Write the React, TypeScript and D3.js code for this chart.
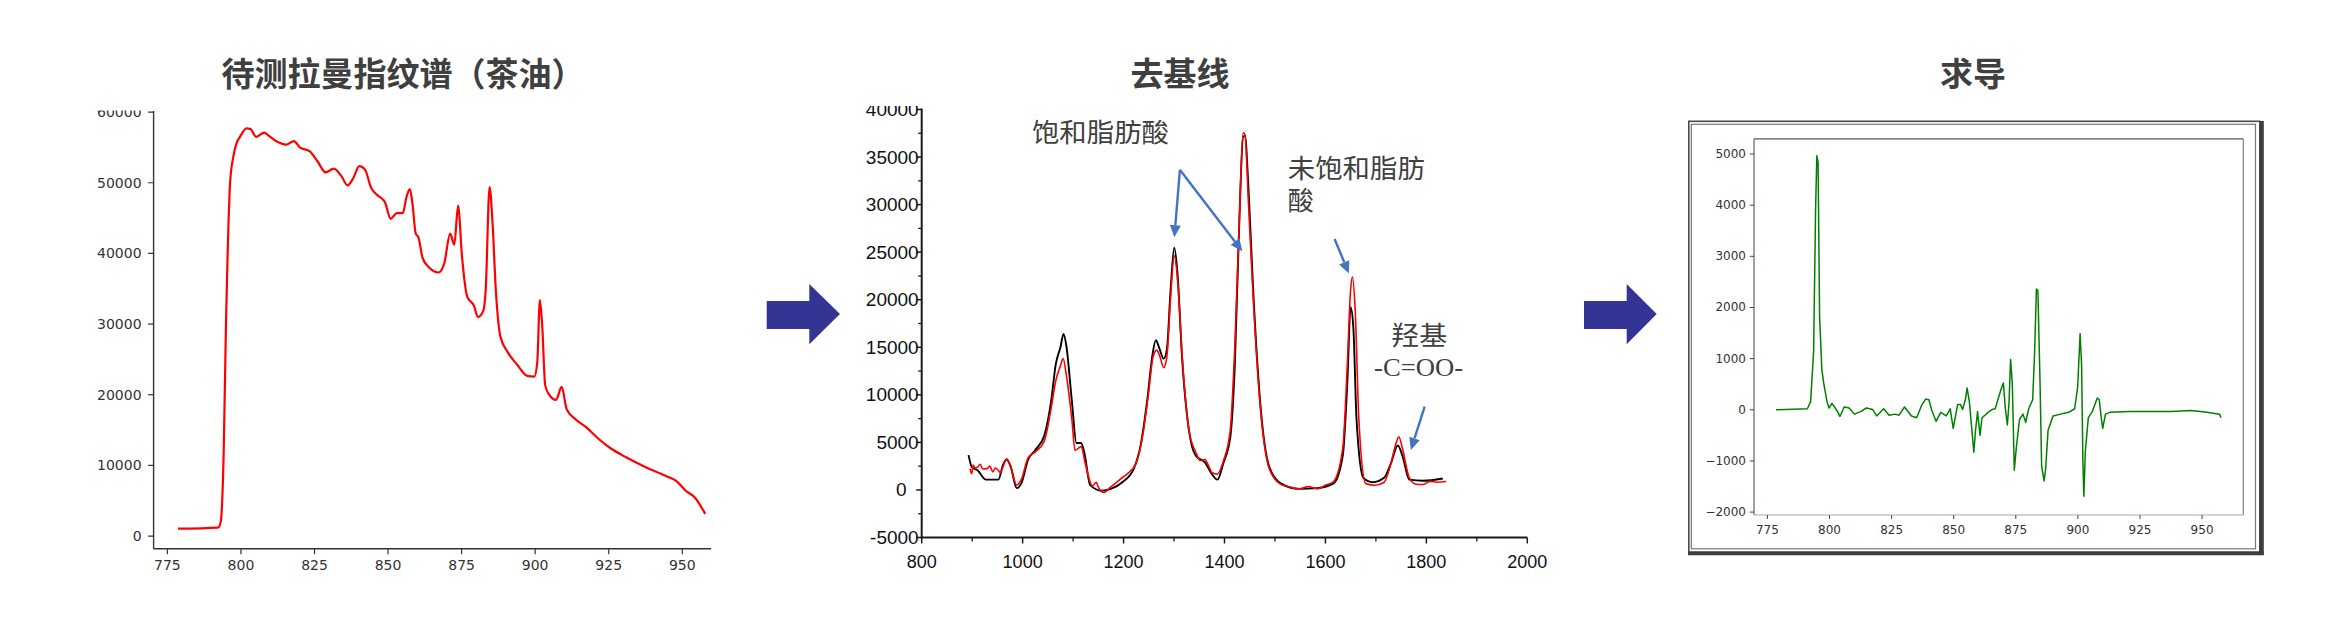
import React from 'react';
import * as d3 from 'd3';

// ---------- Panel 1: raw Raman spectrum (tea oil) ----------
const rawX = [778.6, 792.2, 793.1, 794.1, 794.9, 795.5, 796.3, 797.4, 798.5, 799.7, 801.9, 803.2, 805.2, 807.9, 809.3, 811.9, 815.3, 818, 820, 823.4, 826, 828.8, 831.5, 834.2, 836.2, 838.2, 840.2, 842.2, 844.2, 846.2, 848.9, 850.9, 853, 855, 856.3, 857.4, 858.3, 859.4, 860.3, 861.7, 863.7, 867.1, 869.1, 871.1, 872.5, 873.8, 875.1, 876.9, 879.2, 880.5, 882.3, 883.2, 884.5, 885.5, 886.6, 888.2, 890.6, 893.9, 897.3, 899.7, 900.7, 901.6, 902.4, 903.4, 904.7, 907.1, 909, 910.7, 913.4, 917.5, 921.5, 925.5, 930.9, 937.6, 944.3, 948.4, 951.1, 954.4, 957.8];
const rawY = [1047, 1200, 2000, 11400, 30000, 40500, 50000, 53700, 55600, 56520, 57700, 57600, 56500, 57100, 56700, 55900, 55400, 55900, 55000, 54450, 53040, 51470, 52000, 50900, 49630, 50680, 52360, 51830, 49340, 48300, 47280, 44900, 45700, 45700, 48060, 49100, 47000, 42800, 42300, 39400, 38100, 37300, 38600, 42800, 41250, 46750, 39700, 33900, 32600, 31000, 31800, 34970, 49370, 44400, 35000, 28200, 26070, 24240, 22670, 22570, 24500, 33400, 29740, 21360, 20050, 19270, 21100, 17960, 16650, 15340, 13770, 12460, 11150, 9740, 8530, 7640, 6440, 5390, 3140];

// ---------- Panel 2: baseline removed (black + red) ----------
const blackX = [892.8, 899.2, 911, 927.4, 951.9, 961, 968.3, 976.5, 988.3, 997.4, 1011, 1024.7, 1042.9, 1056.6, 1065.7, 1074.8, 1081.1, 1086.6, 1097.5, 1106.6, 1115.7, 1122.1, 1133.9, 1156.6, 1174.8, 1197.6, 1220.3, 1234, 1247.6, 1256.7, 1264, 1270.4, 1279.5, 1285.8, 1293.1, 1300.4, 1306.7, 1315.8, 1329.5, 1343.1, 1361.3, 1375, 1385.9, 1397.7, 1411.4, 1420.5, 1429.6, 1436.9, 1440.5, 1447.8, 1456.9, 1470.5, 1488.7, 1511.5, 1547.9, 1584.3, 1616.1, 1634.3, 1643.4, 1649.8, 1655.3, 1661.6, 1675.3, 1693.5, 1716.3, 1729.9, 1743.5, 1752.6, 1766.3, 1793.6, 1832.6];
const blackY = [3665, 2430, 2045, 1080, 1080, 2620, 3200, 2430, 190, 690, 3200, 4170, 5710, 9380, 13230, 14970, 16400, 15160, 9380, 4940, 4940, 3970, 500, -80, 115, 810, 2240, 4745, 9760, 14000, 15740, 14970, 13810, 14780, 20950, 25460, 22880, 14000, 6290, 3590, 2890, 1660, 1080, 2820, 5520, 13230, 28670, 37150, 37230, 31370, 20950, 9380, 2430, 690, 115, 190, 690, 3590, 11300, 19210, 17090, 7450, 1270, 810, 1270, 2820, 4670, 3590, 1080, 960, 1200];
const redX = [895.6, 899, 902, 906, 911, 916, 921, 929.2, 935, 941, 946, 952, 956, 961, 968.3, 976.5, 988.3, 997.4, 1011, 1024.7, 1042.9, 1056.6, 1065.7, 1074.8, 1080.2, 1086.6, 1097.5, 1103.9, 1115.7, 1124.8, 1138.4, 1146, 1150, 1161.2, 1172, 1183.9, 1195, 1206.7, 1224.9, 1238.5, 1249.4, 1258.5, 1265.8, 1272.1, 1279.5, 1285.8, 1293.1, 1300.4, 1307.6, 1315.8, 1329.5, 1343.1, 1352, 1361.3, 1368, 1375, 1385.9, 1397.7, 1411.4, 1420.5, 1429.6, 1436.9, 1440.5, 1447.8, 1456.9, 1470.5, 1488.7, 1511.5, 1530, 1547.9, 1566, 1584.3, 1600, 1616.1, 1634.3, 1643.4, 1649.8, 1653.4, 1658.9, 1666.2, 1679.8, 1698, 1716.3, 1729.9, 1739, 1745.4, 1752.6, 1766.3, 1780, 1793.6, 1808, 1820.9, 1839.1];
const redY = [2240, 1700, 2620, 2300, 2430, 2700, 2200, 2240, 2500, 1900, 2300, 2045, 1800, 2430, 3280, 2430, 500, 1080, 3395, 3970, 5130, 8600, 11500, 13040, 13810, 12080, 7450, 4170, 4550, 2620, 420, 800, 300, -270, 200, 690, 1200, 1660, 2820, 5900, 10150, 14000, 14700, 14000, 12850, 14000, 20180, 24610, 21720, 14390, 6290, 3970, 3100, 3200, 2600, 1850, 1660, 3010, 6290, 15160, 28670, 37540, 37350, 29820, 20180, 8990, 2240, 580, 300, 115, 350, 115, 500, 890, 4360, 13230, 20950, 22420, 19020, 7450, 690, 500, 810, 2820, 4750, 5590, 4360, 1270, 600, 580, 900, 810, 890];

// ---------- Panel 3: derivative ----------
const derivX = [778.5, 791.1, 792.4, 793.6, 794.4, 794.9, 795.4, 796, 796.9, 797.7, 799, 799.8, 801, 802.3, 803.4, 804.2, 805.9, 807.9, 810, 812.5, 814.9, 817.4, 819, 821.8, 824, 826.4, 828, 830.2, 833, 835.1, 837.1, 838.7, 840, 841.2, 842.9, 844.8, 847, 848.6, 849.8, 851.6, 852.7, 853.6, 854.7, 855.4, 856.3, 857.2, 858.1, 858.8, 859.6, 860.6, 861.4, 863.1, 864.2, 865.4, 866.7, 868, 869.1, 870, 870.8, 871.6, 872.3, 872.9, 873.6, 874.4, 875.2, 876.5, 877.9, 879, 880.2, 881.8, 882.6, 883.3, 883.9, 884.8, 885.4, 886.4, 887, 888, 890, 893, 896.3, 898.7, 899.9, 900.9, 901.5, 902, 902.4, 903, 904.2, 905.8, 907, 907.8, 908.6, 909.5, 910, 911.1, 912.8, 921, 937.3, 945.5, 952, 957, 957.6];
const derivY = [0, 20, 160, 1140, 3930, 4965, 4840, 1840, 790, 510, 160, 35, 125, 35, -50, -130, 55, 35, -85, -35, 35, 5, -120, 20, -105, -85, -105, 55, -120, -155, 90, 210, 195, -15, -225, -50, -120, 20, -365, 105, 105, 5, 195, 425, 160, -330, -830, -400, -35, -500, -155, -85, -35, 5, 20, 230, 405, 525, 20, -295, 160, 985, 510, -1180, -750, -190, -85, -245, 20, 195, 1140, 2360, 2325, 440, -1095, -1390, -1165, -400, -120, -85, -50, 20, 440, 1490, 860, -955, -1690, -815, -155, -35, 125, 230, 195, -190, -365, -85, -50, -35, -35, -15, -50, -85, -155];

// ---------- Tick values & labels ----------
const p1XTicks = [775, 800, 825, 850, 875, 900, 925, 950];
const p1YTicks = [0, 10000, 20000, 30000, 40000, 50000, 60000];
const p2XMajor = [800, 1000, 1200, 1400, 1600, 1800, 2000];
const p2XMinor = [900, 1100, 1300, 1500, 1700, 1900];
const p2YMajor = [-5000, 0, 5000, 10000, 15000, 20000, 25000, 30000, 35000, 40000];
const p2YMinor = [-2500, 2500, 7500, 12500, 17500, 22500, 27500, 32500, 37500];
const p3XTicks = [775, 800, 825, 850, 875, 900, 925, 950];
const p3YTicks = [-2000, -1000, 0, 1000, 2000, 3000, 4000, 5000];

const titles = ['待测拉曼指纹谱（茶油）', '去基线', '求导'];

// annotations in panel-2 data coordinates
const notes = [
  { text: '饱和脂肪酸', x: 1018.5, y: 37780, len: 137, serif: false },
  { text: '未饱和脂肪', x: 1525.5, y: 34050, len: 137, serif: false },
  { text: '酸', x: 1525.5, y: 30660, len: 0, serif: false },
  { text: '羟基', x: 1730.2, y: 16460, len: 56, serif: false },
  { text: '-C=OO-', x: 1696.5, y: 12880, len: 89, serif: true },
];
const noteArrows = [
  { x0: 1311.6, y0: 33660, x1: 1300.7, y1: 26570 },
  { x0: 1311.6, y0: 33660, x1: 1435.3, y1: 25100 },
  { x0: 1618.2, y0: 26380, x1: 1646.4, y1: 22770 },
  { x0: 1796.6, y0: 8760, x1: 1769.3, y1: 4210 },
];

const CJK = '"Noto Sans CJK SC", "Noto Sans", sans-serif';

function zip(xs: number[], ys: number[]): [number, number][] {
  return xs.map((x, i) => [x, ys[i]] as [number, number]);
}

function ArrowLine({ x0, y0, x1, y1 }: { x0: number; y0: number; x1: number; y1: number }) {
  const dx = x1 - x0, dy = y1 - y0;
  const L = Math.hypot(dx, dy);
  const ux = dx / L, uy = dy / L;
  const hl = 12, hw = 5.5;
  const bx = x1 - ux * hl, by = y1 - uy * hl;
  const pts = `${x1},${y1} ${bx - uy * hw},${by + ux * hw} ${bx + uy * hw},${by - ux * hw}`;
  return (
    <g>
      <line x1={x0} y1={y0} x2={bx} y2={by} stroke="#4472C4" strokeWidth={2.4} />
      <polygon points={pts} fill="#4472C4" />
    </g>
  );
}

export default function App() {
  // Panel 1 scales
  const x1 = d3.scaleLinear().domain([770.3, 959.8]).range([153.6, 711.1]);
  const y1 = d3.scaleLinear().domain([-1790, 60000]).range([548.7, 112.1]);
  const line1 = d3.line<[number, number]>().x(d => x1(d[0])).y(d => y1(d[1])).curve(d3.curveMonotoneX);

  // Panel 2 scales
  const x2 = d3.scaleLinear().domain([800, 2000]).range([921.7, 1527.3]);
  const y2 = d3.scaleLinear().domain([-5000, 40000]).range([537.5, 109.5]);
  const line2 = d3.line<[number, number]>().x(d => x2(d[0])).y(d => y2(d[1])).curve(d3.curveMonotoneX);

  // Panel 3 scales
  const x3 = d3.scaleLinear().domain([769.6, 966.6]).range([1754, 2243.3]);
  const y3 = d3.scaleLinear().domain([-2000, 5000]).range([512.1, 154]);
  const line3 = d3.line<[number, number]>().x(d => x3(d[0])).y(d => y3(d[1]));

  const p1Left = x1.range()[0], p1Right = x1.range()[1];
  const p1Bottom = y1.range()[0], p1Top = y1.range()[1];
  const p2Left = x2.range()[0], p2Right = x2.range()[1];
  const p2Bottom = y2.range()[0], p2Top = y2.range()[1];

  return (
    <svg width={2352} height={639} style={{ position: 'absolute', left: 0, top: 0, display: 'block', background: '#fff' }}>
      <defs>
        <clipPath id="clip1"><rect x={0} y={110.5} width={760} height={520} /></clipPath>
        <clipPath id="clip2"><rect x={850} y={106} width={720} height={520} /></clipPath>
        <clipPath id="clip3"><rect x={1754} y={138.9} width={489.3} height={376.1} /></clipPath>
      </defs>

      {/* Titles */}
      {[403, 1180, 1973].map((cx, i) => (
        <text key={i} x={cx} y={72} textAnchor="middle" dominantBaseline="central"
          fontFamily={CJK} fontWeight={700} fontSize={33} fill="#3f3f3f">{titles[i]}</text>
      ))}

      {/* ---------------- Panel 1 ---------------- */}
      <g clipPath="url(#clip1)">
        <line x1={p1Left} y1={p1Top - 1} x2={p1Left} y2={p1Bottom} stroke="#333" strokeWidth={1.4} />
        <line x1={p1Left} y1={p1Bottom} x2={p1Right} y2={p1Bottom} stroke="#333" strokeWidth={1.4} />
        {p1YTicks.map(v => (
          <g key={v}>
            <line x1={p1Left - 5.5} x2={p1Left} y1={y1(v)} y2={y1(v)} stroke="#333" strokeWidth={1.2} />
            <text x={p1Left - 12} y={y1(v)} textAnchor="end" dominantBaseline="central"
              fontFamily="DejaVu Sans" fontSize={14} fill="#333">{v}</text>
          </g>
        ))}
        {p1XTicks.map(v => (
          <g key={v}>
            <line x1={x1(v)} x2={x1(v)} y1={p1Bottom} y2={p1Bottom + 5.5} stroke="#333" strokeWidth={1.2} />
            <text x={x1(v)} y={565} textAnchor="middle" dominantBaseline="central"
              fontFamily="DejaVu Sans" fontSize={14} fill="#333">{v}</text>
          </g>
        ))}
        <path d={line1(zip(rawX, rawY)) || ''} fill="none" stroke="#ff0000" strokeWidth={2.2} strokeLinejoin="round" />
      </g>

      {/* Arrow 1 */}
      <polygon points="766.7,301 809.3,301 809.3,284 840,314 809.3,344.3 809.3,329 766.7,329" fill="#343494" />
      {/* Arrow 2 */}
      <polygon points="1584,301 1626.7,301 1626.7,284 1656.7,314 1626.7,344.3 1626.7,329 1584,329" fill="#343494" />

      {/* ---------------- Panel 2 ---------------- */}
      <g clipPath="url(#clip2)">
        <line x1={p2Left} y1={p2Top - 1} x2={p2Left} y2={p2Bottom + 1} stroke="#1a1a1a" strokeWidth={2} />
        <line x1={p2Left - 1} y1={p2Bottom} x2={p2Right} y2={p2Bottom} stroke="#1a1a1a" strokeWidth={2} />
        {p2YMajor.map(v => (
          <g key={v}>
            <line x1={p2Left - 5.5} x2={p2Left} y1={y2(v)} y2={y2(v)} stroke="#1a1a1a" strokeWidth={1.5} />
            <text x={v === 0 ? p2Left - 15 : p2Left - 3} y={y2(v)} textAnchor="end" dominantBaseline="central"
              fontFamily="Liberation Sans, Arial, sans-serif" fontSize={19} fill="#111">{v}</text>
          </g>
        ))}
        {p2YMinor.map(v => (
          <line key={v} x1={p2Left - 3.5} x2={p2Left} y1={y2(v)} y2={y2(v)} stroke="#1a1a1a" strokeWidth={1.3} />
        ))}
        {p2XMajor.map(v => (
          <g key={v}>
            <line x1={x2(v)} x2={x2(v)} y1={p2Bottom} y2={p2Bottom + 6} stroke="#1a1a1a" strokeWidth={1.5} />
            <text x={x2(v)} y={562} textAnchor="middle" dominantBaseline="central"
              fontFamily="Liberation Sans, Arial, sans-serif" fontSize={18} fill="#111">{v}</text>
          </g>
        ))}
        {p2XMinor.map(v => (
          <line key={v} x1={x2(v)} x2={x2(v)} y1={p2Bottom} y2={p2Bottom + 4} stroke="#1a1a1a" strokeWidth={1.3} />
        ))}
        <path d={line2(zip(blackX, blackY)) || ''} fill="none" stroke="#000" strokeWidth={1.9} strokeLinejoin="round" />
        <path d={line2(zip(redX, redY)) || ''} fill="none" stroke="#ff0000" strokeWidth={1.6} strokeLinejoin="round" />
      </g>
      {notes.map((n, i) => (
        <text key={i} x={x2(n.x)} y={y2(n.y)} dominantBaseline="central"
          fontFamily={n.serif ? 'Liberation Serif, serif' : CJK} fontSize={n.serif ? 25 : 26} fill="#404040"
          {...(n.len ? { textLength: n.len, lengthAdjust: 'spacingAndGlyphs' } : {})}>{n.text}</text>
      ))}
      {noteArrows.map((a, i) => (
        <ArrowLine key={i} x0={x2(a.x0)} y0={y2(a.y0)} x1={x2(a.x1)} y1={y2(a.y1)} />
      ))}

      {/* ---------------- Panel 3 ---------------- */}
      <rect x={1688.8} y={121.3} width={571} height={431.5} fill="#fff" stroke="#4a4a4a" strokeWidth={1.6} />
      <rect x={1691.3} y={124.3} width={564.2} height={424.5} fill="none" stroke="#777" strokeWidth={1.2} />
      <line x1={2261.8} y1={121} x2={2261.8} y2={555} stroke="#3d3d3d" strokeWidth={4} />
      <line x1={1688} y1={553.2} x2={2263.7} y2={553.2} stroke="#3d3d3d" strokeWidth={4} />

      <line x1={1754} y1={138.9} x2={2243.3} y2={138.9} stroke="#555" strokeWidth={1.1} />
      <line x1={1754} y1={138.9} x2={1754} y2={515} stroke="#555" strokeWidth={1.1} />
      <line x1={2243.3} y1={138.9} x2={2243.3} y2={515} stroke="#777" strokeWidth={1.1} />
      <line x1={1754} y1={515} x2={2243.3} y2={515} stroke="#aaa" strokeWidth={1.1} />
      {p3YTicks.map(v => (
        <g key={v}>
          <line x1={1749.7} x2={1754} y1={y3(v)} y2={y3(v)} stroke="#444" strokeWidth={1} />
          <text x={1746} y={y3(v)} textAnchor="end" dominantBaseline="central"
            fontFamily="DejaVu Sans" fontSize={12} fill="#333">{v < 0 ? '\u2212' + Math.abs(v) : v}</text>
        </g>
      ))}
      {p3XTicks.map(v => (
        <g key={v}>
          <line x1={x3(v)} x2={x3(v)} y1={515} y2={519} stroke="#444" strokeWidth={1} />
          <text x={x3(v)} y={529.5} textAnchor="middle" dominantBaseline="central"
            fontFamily="DejaVu Sans" fontSize={12} fill="#333">{v}</text>
        </g>
      ))}
      <g clipPath="url(#clip3)">
        <path d={line3(zip(derivX, derivY)) || ''} fill="none" stroke="#008000" strokeWidth={1.5} strokeLinejoin="round" />
      </g>
    </svg>
  );
}
